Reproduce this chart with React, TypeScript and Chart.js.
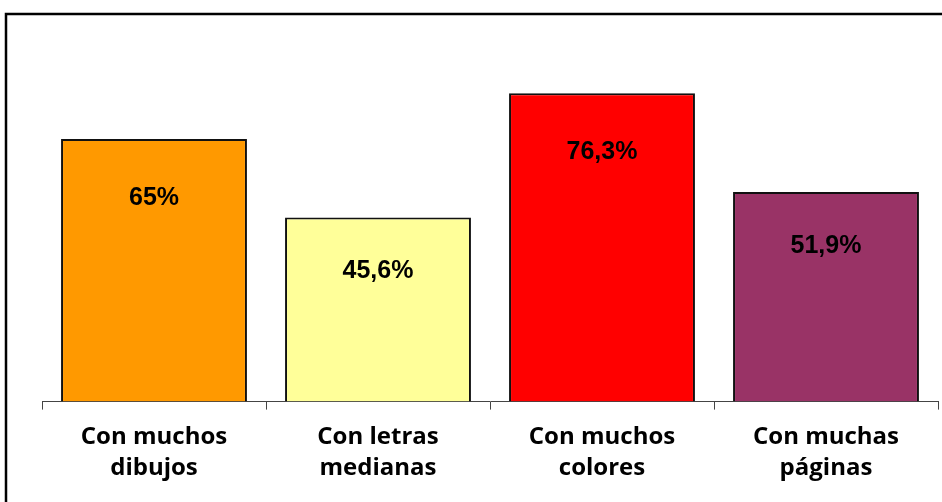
import React, { useEffect, useRef } from "react";
import { Chart, registerables } from "chart.js";

Chart.register(...registerables);

const categories: string[][] = [
  ["Con muchos", "dibujos"],
  ["Con letras", "medianas"],
  ["Con muchos", "colores"],
  ["Con muchas", "páginas"],
];
const values: number[] = [65, 45.6, 76.3, 51.9];
const barColors: string[] = ["#FF9900", "#FFFF99", "#FF0000", "#993366"];

const frameAndLabels = {
  id: "frameAndLabels",
  beforeDraw(chart: any) {
    const ctx = chart.ctx;
    ctx.save();
    ctx.fillStyle = "#ffffff";
    ctx.fillRect(0, 0, chart.width, chart.height);
    ctx.strokeStyle = "#000000";
    ctx.lineWidth = 2.5;
    ctx.strokeRect(6, 14, chart.width + 20, chart.height + 20);
    ctx.restore();
  },
  afterDatasetsDraw(chart: any) {
    const ctx = chart.ctx;
    const meta = chart.getDatasetMeta(0);
    ctx.save();
    ctx.font = "bold 25px 'Liberation Sans', Arial, sans-serif";
    ctx.fillStyle = "#000000";
    ctx.textAlign = "center";
    ctx.textBaseline = "middle";
    meta.data.forEach((bar: any, i: number) => {
      const v = values[i];
      const txt = String(v).replace(".", ",") + "%";
      const y = bar.y + (i === 1 || i === 3 ? 54 : 59);
      ctx.fillText(txt, bar.x, y);
    });
    ctx.restore();
  },
};

export default function App() {
  const ref = useRef<HTMLCanvasElement | null>(null);
  useEffect(() => {
    if (!ref.current) return;
    const chart = new Chart(ref.current, {
      type: "bar",
      data: {
        labels: categories as any,
        datasets: [
          {
            data: values,
            backgroundColor: barColors,
            borderColor: "#111111",
            borderWidth: 2,
            categoryPercentage: 1,
            barPercentage: 0.83,
          },
        ],
      },
      options: {
        animation: false,
        responsive: false,
        maintainAspectRatio: false,
        layout: { padding: { left: 42, right: 4, top: 38, bottom: 6 } },
        plugins: {
          legend: { display: false },
          tooltip: { enabled: false },
          title: { display: false },
        },
        scales: {
          x: {
            offset: true,
            grid: {
              offset: true,
              drawOnChartArea: false,
              drawTicks: true,
              tickLength: 8,
              color: "#444444",
              lineWidth: 1,
            },
            border: { display: true, color: "#444444", width: 1 },
            ticks: {
              color: "#000000",
              padding: 12,
              maxRotation: 0,
              autoSkip: false,
              font: { family: "'Open Sans', 'DejaVu Sans', sans-serif", size: 24, weight: "bold", lineHeight: 1.3 },
            },
          },
          y: {
            display: false,
            min: 0,
            max: 90,
          },
        },
      },
      plugins: [frameAndLabels],
    });
    return () => chart.destroy();
  }, []);
  return (
    <div style={{ position: "fixed", left: 0, top: 0, width: 942, height: 502 }}>
      <canvas ref={ref} width={942} height={502} style={{ width: 942, height: 502, display: "block" }} />
    </div>
  );
}
